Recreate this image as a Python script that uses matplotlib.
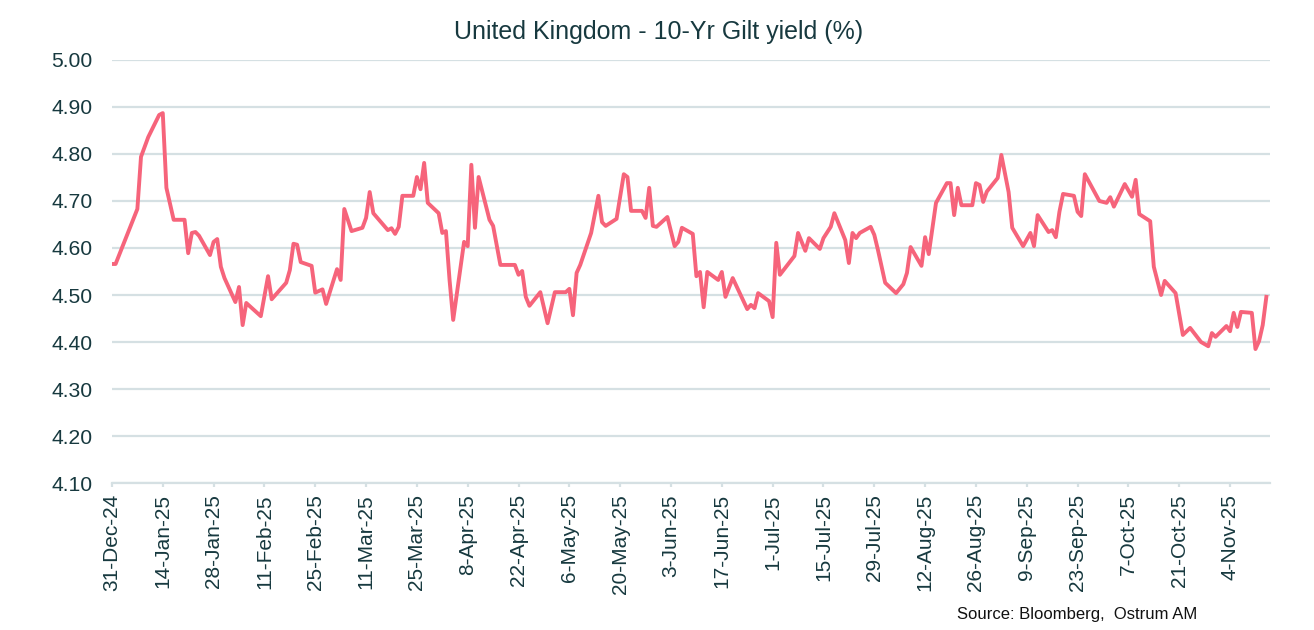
import numpy as np
import pandas as pd
import matplotlib
matplotlib.use("Agg")
import matplotlib.pyplot as plt

plt.rcParams['font.family'] = ['Liberation Sans', 'DejaVu Sans']

# ---------- Data ----------
start = pd.Timestamp('2024-12-31')
day_offset = [
    0, 1, 7, 8, 10, 13, 14, 15, 17, 20, 21, 22, 23, 24, 27, 28, 29, 30, 31, 34,
    35, 36, 37, 41, 43, 44, 48, 49, 50, 51, 52, 55, 56, 58, 59, 62, 63, 64, 66, 69,
    70, 71, 72, 76, 77, 78, 79, 80, 83, 84, 85, 86, 87, 90, 91, 92, 93, 94, 97, 98,
    99, 100, 101, 104, 105, 107, 111, 112, 113, 114, 115, 118, 120, 122, 125, 126, 127, 128, 129, 132,
    134, 135, 136, 139, 141, 142, 143, 146, 147, 148, 149, 150, 153, 155, 156, 157, 160, 161, 162, 163,
    164, 167, 168, 169, 171, 175, 176, 177, 178, 181, 182, 183, 184, 188, 189, 191, 192, 195, 196, 198,
    199, 202, 203, 204, 205, 206, 209, 210, 211, 213, 216, 218, 219, 220, 223, 224, 225, 227, 230, 231,
    232, 233, 234, 237, 238, 239, 240, 241, 244, 245, 247, 248, 251, 253, 254, 255, 258, 259, 260, 261,
    262, 265, 266, 267, 268, 272, 274, 275, 276, 279, 281, 282, 283, 286, 287, 289, 290, 293, 295, 297,
    300, 302, 303, 304, 307, 308, 309, 310, 311, 314, 315, 316, 317, 318,
]
gilt_10y = [
    4.566, 4.566, 4.683, 4.794, 4.836, 4.883, 4.887, 4.728, 4.660, 4.660, 4.589, 4.632, 4.634, 4.626, 4.585, 4.613, 4.619, 4.560, 4.536, 4.485,
    4.517, 4.436, 4.483, 4.455, 4.540, 4.491, 4.526, 4.553, 4.609, 4.607, 4.570, 4.562, 4.505, 4.512, 4.481, 4.555, 4.532, 4.683, 4.636, 4.643,
    4.664, 4.719, 4.674, 4.638, 4.642, 4.630, 4.645, 4.711, 4.711, 4.751, 4.725, 4.781, 4.696, 4.674, 4.632, 4.636, 4.532, 4.447, 4.613, 4.604,
    4.777, 4.643, 4.751, 4.660, 4.647, 4.564, 4.564, 4.543, 4.551, 4.496, 4.477, 4.506, 4.440, 4.506, 4.506, 4.513, 4.457, 4.547, 4.564, 4.632,
    4.711, 4.655, 4.647, 4.662, 4.757, 4.751, 4.679, 4.679, 4.664, 4.728, 4.647, 4.645, 4.666, 4.604, 4.613, 4.643, 4.630, 4.540, 4.549, 4.474,
    4.549, 4.532, 4.549, 4.496, 4.536, 4.470, 4.479, 4.472, 4.504, 4.487, 4.453, 4.611, 4.543, 4.583, 4.632, 4.594, 4.621, 4.598, 4.621, 4.645,
    4.674, 4.617, 4.568, 4.632, 4.621, 4.632, 4.645, 4.628, 4.596, 4.526, 4.504, 4.523, 4.547, 4.602, 4.562, 4.623, 4.587, 4.696, 4.738, 4.738,
    4.670, 4.728, 4.691, 4.691, 4.738, 4.734, 4.698, 4.720, 4.749, 4.798, 4.719, 4.643, 4.604, 4.632, 4.604, 4.670, 4.634, 4.638, 4.623, 4.677,
    4.715, 4.711, 4.677, 4.668, 4.757, 4.700, 4.696, 4.708, 4.688, 4.736, 4.709, 4.745, 4.672, 4.657, 4.560, 4.500, 4.530, 4.504, 4.415, 4.430,
    4.400, 4.391, 4.419, 4.411, 4.434, 4.423, 4.462, 4.432, 4.464, 4.462, 4.385, 4.402, 4.436, 4.496,
]
dates = start + pd.to_timedelta(day_offset, unit='D')
tick_dates = pd.date_range(start, periods=23, freq='14D')
tick_labels = [f"{d.day}-{d:%b-%y}" for d in tick_dates]
y_ticks = np.round(np.arange(4.10, 5.001, 0.10), 2)

# ---------- Style ----------
text_col = '#17393F'
grid_col = '#D5E0E3'
line_col = '#F6647B'

fig = plt.figure(figsize=(13.14, 6.30), dpi=100)
ax = fig.add_axes([0.0852, 0.2333, 0.8813, 0.6715])

ax.plot(dates, gilt_10y, color=line_col, lw=2.8, solid_joinstyle='round', zorder=3)

ax.set_ylim(4.10, 5.00)
ax.set_yticks(y_ticks)
ax.set_yticklabels([f"{v:.2f}" for v in y_ticks])
ax.set_xlim(start, start + pd.Timedelta(days=319))
ax.set_xticks(tick_dates)
ax.set_xticklabels(tick_labels, rotation=90)

ax.grid(axis='y', color=grid_col, lw=1.6, zorder=0)
for s in ['top', 'right', 'left']:
    ax.spines[s].set_visible(False)
ax.spines['bottom'].set_color(grid_col)
ax.spines['bottom'].set_linewidth(1.6)
ax.tick_params(axis='y', length=0, pad=14, labelsize=15.2, labelcolor=text_col)
ax.tick_params(axis='x', length=3, width=1.6, color=grid_col, pad=5,
               labelsize=15, labelcolor=text_col)

fig.text(0.501, 0.949, "United Kingdom - 10-Yr Gilt yield (%)", ha='center', va='center',
         fontsize=18, color=text_col)
fig.text(0.911, 0.012, "Source: Bloomberg,  Ostrum AM", ha='right', va='bottom',
         fontsize=12, color='#111111')

fig.savefig('out.png', dpi=100)
